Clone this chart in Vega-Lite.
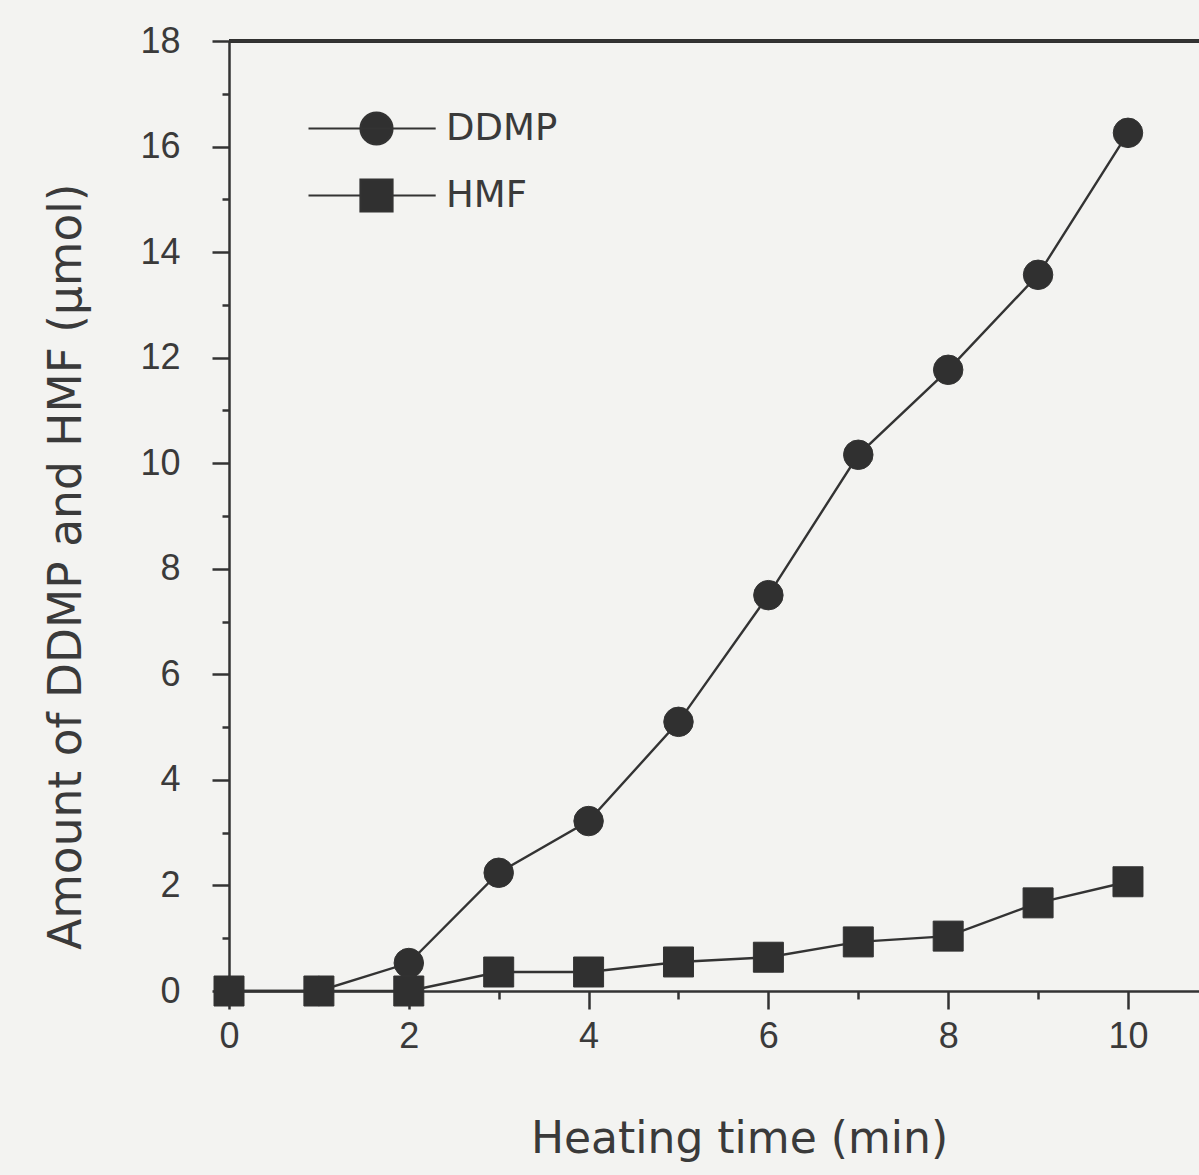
{
  "$schema": "https://vega.github.io/schema/vega-lite/v6.json",
  "autosize": {"type": "none"},
  "width": 970,
  "height": 950,
  "padding": {"left": 229, "top": 41, "right": 0, "bottom": 184},
  "background": "#f3f3f1",
  "config": {
    "view": {"stroke": null},
    "axis": {
      "domainColor": "#333333",
      "tickColor": "#333333",
      "labelColor": "#3a3a3a",
      "titleColor": "#3a3a3a",
      "domainWidth": 2.5,
      "tickWidth": 2.5,
      "grid": false
    },
    "legend": {
      "title": null,
      "orient": "none",
      "padding": 0,
      "symbolSize": 1024,
      "symbolStrokeWidth": 2.2,
      "symbolStrokeColor": "#333333",
      "symbolFillColor": "#303030",
      "symbolOpacity": 1,
      "labelFont": "DejaVu Sans",
      "labelFontSize": 37,
      "labelColor": "#3a3a3a",
      "labelOffset": 51
    }
  },
  "data": {
    "values": [
      {"time": 0, "series": "DDMP", "amount": 0},
      {"time": 1, "series": "DDMP", "amount": 0},
      {"time": 2, "series": "DDMP", "amount": 0.53},
      {"time": 3, "series": "DDMP", "amount": 2.24},
      {"time": 4, "series": "DDMP", "amount": 3.22},
      {"time": 5, "series": "DDMP", "amount": 5.1},
      {"time": 6, "series": "DDMP", "amount": 7.5},
      {"time": 7, "series": "DDMP", "amount": 10.16},
      {"time": 8, "series": "DDMP", "amount": 11.77},
      {"time": 9, "series": "DDMP", "amount": 13.57},
      {"time": 10, "series": "DDMP", "amount": 16.26},
      {"time": 0, "series": "HMF", "amount": 0},
      {"time": 1, "series": "HMF", "amount": 0},
      {"time": 2, "series": "HMF", "amount": 0},
      {"time": 3, "series": "HMF", "amount": 0.36},
      {"time": 4, "series": "HMF", "amount": 0.36},
      {"time": 5, "series": "HMF", "amount": 0.55},
      {"time": 6, "series": "HMF", "amount": 0.64},
      {"time": 7, "series": "HMF", "amount": 0.93},
      {"time": 8, "series": "HMF", "amount": 1.04},
      {"time": 9, "series": "HMF", "amount": 1.67},
      {"time": 10, "series": "HMF", "amount": 2.07}
    ]
  },
  "layer": [
    {
      "mark": {"type": "line", "color": "#333333", "strokeWidth": 2.4},
      "encoding": {
        "x": {
          "field": "time", "type": "quantitative",
          "scale": {"domain": [0, 10.79], "nice": false, "zero": false},
          "axis": {
            "orient": "bottom",
            "values": [0, 2, 4, 6, 8, 10],
            "format": "d",
            "tickSize": 18,
            "labelPadding": 10,
            "labelFont": "Liberation Sans",
            "labelFontSize": 36,
            "labelBaseline": "top",
            "labelFlush": false,
            "title": "Heating time (min)",
            "titleFont": "DejaVu Sans",
            "titleFontSize": 44,
            "titleFontWeight": "normal",
            "titleX": 510,
            "titleY": 161,
            "titleAlign": "center",
            "titleBaseline": "alphabetic",
            "titleAnchor": null
          }
        },
        "y": {
          "field": "amount", "type": "quantitative",
          "scale": {"domain": [0, 18], "nice": false},
          "axis": {
            "orient": "left",
            "values": [0, 2, 4, 6, 8, 10, 12, 14, 16, 18],
            "format": "d",
            "tickSize": 17,
            "labelPadding": 32,
            "labelFont": "Liberation Sans",
            "labelFontSize": 36,
            "labelBaseline": "middle",
            "labelFlush": false,
            "title": "Amount of DDMP and HMF (μmol)",
            "titleFont": "DejaVu Sans",
            "titleFontSize": 45.5,
            "titleFontWeight": "normal",
            "titleAngle": -90,
            "titleX": -149,
            "titleY": 525,
            "titleAlign": "center",
            "titleBaseline": "alphabetic",
            "titleAnchor": null
          }
        },
        "detail": {"field": "series"}
      }
    },
    {
      "transform": [{"filter": "datum.series === 'DDMP'"}],
      "mark": {"type": "point", "shape": "circle", "filled": true, "opacity": 1, "stroke": "#333333", "strokeWidth": 1, "size": 870},
      "encoding": {
        "x": {
          "field": "time", "type": "quantitative",
          "axis": {
            "orient": "bottom",
            "values": [1, 3, 5, 7, 9],
            "tickSize": 8,
            "domain": false,
            "labels": false,
            "title": null
          }
        },
        "y": {
          "field": "amount", "type": "quantitative",
          "axis": {
            "orient": "left",
            "values": [1, 3, 5, 7, 9, 11, 13, 15, 17],
            "tickSize": 7,
            "domain": false,
            "labels": false,
            "title": null
          }
        },
        "fill": {
          "field": "series", "type": "nominal",
          "scale": {"domain": ["DDMP"], "range": ["#303030"]},
          "legend": {
            "legendX": 129,
            "legendY": 69,
            "symbolType": "M-4.25,0H-1A1,1,0,1,1,1,0H3.7M1,0A1,1,0,1,1,-1,0Z"
          }
        }
      }
    },
    {
      "transform": [{"filter": "datum.series === 'HMF'"}],
      "mark": {"type": "point", "shape": "square", "filled": true, "opacity": 1, "stroke": "#333333", "strokeWidth": 1, "size": 900},
      "encoding": {
        "x": {"field": "time", "type": "quantitative", "axis": null},
        "y": {"field": "amount", "type": "quantitative", "axis": null},
        "color": {
          "field": "series", "type": "nominal",
          "scale": {"domain": ["HMF"], "range": ["#303030"]},
          "legend": {
            "legendX": 129,
            "legendY": 136,
            "symbolType": "M-4.25,0H-1V-1H1V1H-1V0M1,0H3.7"
          }
        }
      }
    },
    {
      "mark": {"type": "rule", "color": "#333333", "strokeWidth": 2.5},
      "encoding": {
        "y": {"datum": 18, "type": "quantitative", "axis": null}
      }
    }
  ],
  "resolve": {"axis": {"x": "independent", "y": "independent"}}
}
